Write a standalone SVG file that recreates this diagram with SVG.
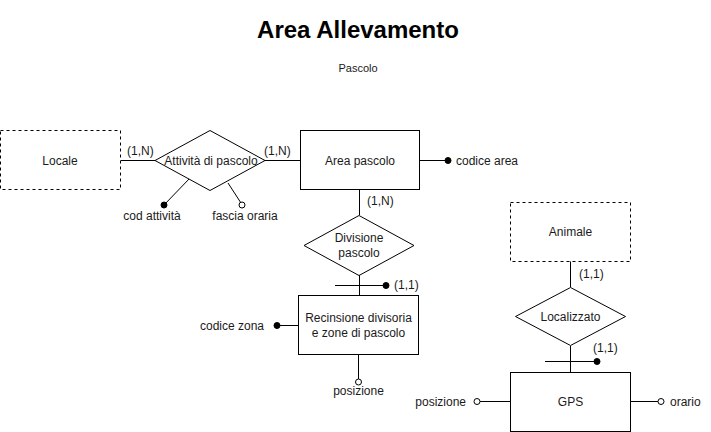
<svg xmlns="http://www.w3.org/2000/svg" width="711" height="432" viewBox="0 0 711 432">
<style>
text{font-family:"Liberation Sans",Arial,sans-serif;font-size:12px;fill:#1a1a1a}
.c{text-anchor:middle}
.e{fill:#fff;stroke:#000;stroke-width:1}
.d{stroke-dasharray:3 3}
.l{stroke:#000;stroke-width:1;fill:none}
.f{fill:#000;stroke:#000}
.o{fill:#fff;stroke:#000}
</style>
<rect width="711" height="432" fill="#fff"/>
<text x="358" y="38" class="c" style="font-size:24px;font-weight:bold;fill:#000">Area Allevamento</text>
<text x="358" y="72" class="c" style="font-size:11px">Pascolo</text>
<g id="connectors">
<path class="l" d="M120.5 160.5H155M265 160.5H300"/>
<path class="l" d="M190 178L164 205M228 183L241 203"/>
<circle class="f" cx="164" cy="205" r="3"/>
<circle class="o" cx="242" cy="205" r="3"/>
<path class="l" d="M419 160.5H446"/>
<circle class="f" cx="448" cy="160.5" r="3"/>
<path class="l" d="M359.5 190V215M359.5 275V295M335 285.5H384"/>
<circle class="f" cx="386" cy="285.5" r="3"/>
<path class="l" d="M358.5 355V379"/>
<circle class="o" cx="358.5" cy="382" r="3"/>
<path class="l" d="M280 325.5H298"/>
<circle class="f" cx="277" cy="325.5" r="3"/>
<path class="l" d="M570.5 261V287M570.5 346V372M545 361.5H595"/>
<circle class="f" cx="597" cy="361.5" r="3"/>
<path class="l" d="M480 401.5H510M631 401.5H658"/>
<circle class="o" cx="477" cy="401.5" r="3"/>
<circle class="o" cx="661" cy="401.5" r="3"/>
<text x="127" y="155">(1,N)</text>
<text x="264" y="155">(1,N)</text>
<text x="367" y="205">(1,N)</text>
<text x="394" y="289">(1,1)</text>
<text x="579" y="278">(1,1)</text>
<text x="593" y="352">(1,1)</text>
</g>
<g id="locale"><rect class="e d" x="0.5" y="130.5" width="120" height="59"/><text x="60" y="164.5" class="c">Locale</text></g>
<g id="attivita"><path class="e" d="M210 130.5L265 160.5L210 190.5L155 160.5Z"/><text x="211" y="164.5" class="c">Attività di pascolo</text></g>
<g id="cod-attivita"><text x="152" y="220" class="c">cod attività</text></g>
<g id="fascia-oraria"><text x="245" y="220" class="c">fascia oraria</text></g>
<g id="area-pascolo"><rect class="e" x="300.5" y="130.5" width="119" height="59"/><text x="360" y="164.5" class="c">Area pascolo</text></g>
<g id="codice-area"><text x="456" y="164.5">codice area</text></g>
<g id="divisione"><path class="e" d="M359 215.5L414 245.5L359 275.5L304 245.5Z"/><text x="359" y="242" class="c">Divisione</text><text x="359" y="257" class="c">pascolo</text></g>
<g id="recinsione"><rect class="e" x="298.5" y="295.5" width="120" height="59"/><text x="358.5" y="322" class="c">Recinsione divisoria</text><text x="358.5" y="337" class="c">e zone di pascolo</text></g>
<g id="codice-zona"><text x="264" y="329.5" style="text-anchor:end">codice zona</text></g>
<g id="posizione-rec"><text x="358.5" y="395" class="c">posizione</text></g>
<g id="animale"><rect class="e d" x="510.5" y="202.5" width="120" height="59"/><text x="570.5" y="236" class="c">Animale</text></g>
<g id="localizzato"><path class="e" d="M570.5 287.5L625.5 316.5L570.5 345.5L515.5 316.5Z"/><text x="570.5" y="320.5" class="c">Localizzato</text></g>
<g id="gps"><rect class="e" x="510.5" y="372.5" width="120" height="59"/><text x="570.5" y="405.5" class="c">GPS</text></g>
<g id="posizione-gps"><text x="466" y="405.5" style="text-anchor:end">posizione</text></g>
<g id="orario"><text x="670" y="405.5">orario</text></g>
</svg>
